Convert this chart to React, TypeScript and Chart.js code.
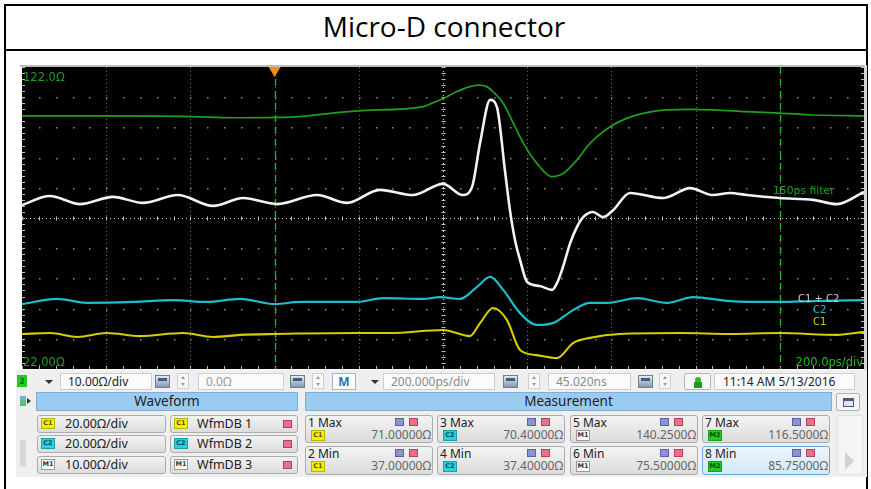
import React, { useEffect, useRef } from "react";
import { Chart, registerables } from "chart.js";

Chart.register(...registerables);

// ---------- data (time in ps, screen value in Ω at 10 Ω/div, 22–122 Ω) ----------
const timeGreen = [0, 183, 399, 501, 601, 660, 796, 953, 977, 1001, 1032, 1064, 1084, 1104, 1119, 1143, 1167, 1191, 1223, 1258, 1286, 1318, 1349, 1397, 1436, 1484, 1531, 1587, 1642, 1721, 1800, 1880, 2000];
const ohmGreen = [105.8, 105.8, 105.6, 105.2, 105.3, 105.6, 107.5, 108.9, 110.2, 111.6, 113.8, 115.5, 116.0, 115.5, 113.8, 110.0, 103.4, 96.7, 90.1, 85.7, 86.8, 91.2, 96.7, 102.2, 105.0, 106.9, 107.8, 108.0, 107.8, 107.2, 106.7, 106.1, 105.8];

const timeWhite = [0, 66, 138, 216, 287, 370, 454, 525, 606, 701, 772, 850, 929, 1000, 1047, 1069, 1088, 1112, 1128, 1147, 1159, 1171, 1183, 1200, 1230, 1259, 1271, 1285, 1302, 1318, 1333, 1356, 1380, 1404, 1444, 1523, 1587, 1641, 1682, 1722, 1800, 1879, 1936, 2000];
const ohmWhite = [76.3, 79.3, 76.6, 79.0, 77.0, 79.6, 76.0, 78.6, 76.6, 79.6, 77.0, 81.3, 79.6, 83.3, 79.6, 82.3, 96.8, 111.1, 108.8, 87.9, 74.6, 64.7, 58.1, 50.8, 49.5, 48.2, 50.5, 55.8, 63.7, 69.0, 72.3, 74.0, 72.3, 74.6, 80.3, 78.6, 81.9, 79.6, 80.3, 79.6, 78.6, 78.0, 76.6, 80.6];

const timeCyan = [0, 83, 154, 264, 359, 439, 518, 601, 660, 796, 858, 953, 993, 1040, 1081, 1112, 1143, 1183, 1223, 1261, 1309, 1349, 1390, 1461, 1532, 1594, 1682, 1800, 1879, 2000];
const ohmCyan = [43.5, 45.2, 43.9, 44.2, 44.8, 44.2, 45.2, 43.5, 44.2, 44.2, 45.5, 45.2, 45.8, 45.2, 49.2, 52.5, 48.2, 40.5, 36.6, 37.2, 41.5, 43.9, 43.9, 45.5, 43.9, 45.8, 44.5, 44.2, 44.5, 44.8];

const timeYellow = [0, 67, 131, 202, 280, 382, 454, 518, 601, 796, 874, 1000, 1064, 1088, 1119, 1152, 1183, 1223, 1271, 1309, 1349, 1420, 1563, 1682, 1800, 1936, 2000];
const ohmYellow = [33.6, 33.9, 32.6, 33.9, 32.9, 33.9, 32.6, 33.3, 33.6, 33.9, 33.9, 34.9, 32.9, 37.2, 42.2, 38.2, 28.3, 26.6, 25.6, 30.6, 32.3, 33.6, 33.9, 33.6, 33.9, 33.3, 34.3];

const xRange = [0, 2000];
const yRange = [22, 122];
const xDivision = 200;
const yDivision = 10;
const cursorTimes = [600, 1800];
const triggerTime = 600;

const waveButtons = [
  { badge: "C1", text: "20.00Ω/div", db: "WfmDB 1" },
  { badge: "C2", text: "20.00Ω/div", db: "WfmDB 2" },
  { badge: "M1", text: "10.00Ω/div", db: "WfmDB 3" },
];
const measButtons = [
  { label: "1 Max", badge: "C1", value: "71.00000Ω" },
  { label: "2 Min", badge: "C1", value: "37.00000Ω" },
  { label: "3 Max", badge: "C2", value: "70.40000Ω" },
  { label: "4 Min", badge: "C2", value: "37.40000Ω" },
  { label: "5 Max", badge: "M1", value: "140.2500Ω" },
  { label: "6 Min", badge: "M1", value: "75.50000Ω" },
  { label: "7 Max", badge: "M2", value: "116.5000Ω" },
  { label: "8 Min", badge: "M2", value: "85.75000Ω" },
];

const badgeColors: Record<string, { bg: string; fg: string; bd: string }> = {
  C1: { bg: "#f4ef00", fg: "#5a5200", bd: "#b9b200" },
  C2: { bg: "#25d2de", fg: "#0b4a55", bd: "#1aa0aa" },
  M1: { bg: "#ffffff", fg: "#333", bd: "#999" },
  M2: { bg: "#1fcc1f", fg: "#064d06", bd: "#14a014" },
};

const pts = (t: number[], v: number[]) => t.map((x, i) => ({ x, y: v[i] }));

const scopeGrid = {
  id: "scopeGrid",
  beforeDatasetsDraw(chart: any) {
    const { ctx, chartArea: a, scales } = chart;
    const x = scales.x;
    const y = scales.y;
    ctx.save();
    const nx = (xRange[1] - xRange[0]) / xDivision;
    const ny = (yRange[1] - yRange[0]) / yDivision;
    for (let i = 1; i < nx; i++) {
      const t = xRange[0] + i * xDivision;
      const px = Math.round(x.getPixelForValue(t)) + 0.5;
      const center = i === nx / 2;
      ctx.strokeStyle = center ? "#cfcfcf" : "#666666";
      ctx.lineWidth = 1;
      ctx.setLineDash([1, 3]);
      ctx.beginPath();
      ctx.moveTo(px, a.top);
      ctx.lineTo(px, a.bottom);
      ctx.stroke();
    }
    for (let j = 1; j < ny; j++) {
      const v = yRange[0] + j * yDivision;
      const py = Math.round(y.getPixelForValue(v)) + 0.5;
      if (j === ny / 2) {
        ctx.strokeStyle = "#cfcfcf";
        ctx.setLineDash([1, 3]);
        ctx.beginPath();
        ctx.moveTo(a.left, py);
        ctx.lineTo(a.right, py);
        ctx.stroke();
      } else {
        ctx.fillStyle = "#8a8a8a";
        for (let k = 0; k <= nx * 5; k++) {
          const px = Math.round(x.getPixelForValue(xRange[0] + (k * xDivision) / 5));
          ctx.fillRect(px, py - 0.5, 1.5, 1.5);
        }
      }
    }
    ctx.setLineDash([]);
    const cx = Math.round(x.getPixelForValue((xRange[0] + xRange[1]) / 2)) + 0.5;
    const cy = Math.round(y.getPixelForValue((yRange[0] + yRange[1]) / 2)) + 0.5;
    ctx.strokeStyle = "#bdbdbd";
    ctx.lineWidth = 1;
    ctx.beginPath();
    for (let k = 0; k <= nx * 5; k++) {
      const px = Math.round(x.getPixelForValue(xRange[0] + (k * xDivision) / 5)) + 0.5;
      ctx.moveTo(px, cy - 2);
      ctx.lineTo(px, cy + 2);
      ctx.moveTo(px, a.bottom);
      ctx.lineTo(px, a.bottom - 3);
    }
    for (let k = 0; k <= ny * 5; k++) {
      const py = Math.round(y.getPixelForValue(yRange[0] + (k * yDivision) / 5)) + 0.5;
      ctx.moveTo(cx - 2, py);
      ctx.lineTo(cx + 2, py);
      ctx.moveTo(a.left, py);
      ctx.lineTo(a.left + 3, py);
      ctx.moveTo(a.right, py);
      ctx.lineTo(a.right - 3, py);
    }
    ctx.stroke();
    ctx.strokeStyle = "#24b024";
    ctx.lineWidth = 1.4;
    ctx.setLineDash([7, 5]);
    cursorTimes.forEach((t) => {
      const px = Math.round(x.getPixelForValue(t)) + 0.5;
      ctx.beginPath();
      ctx.moveTo(px, a.top);
      ctx.lineTo(px, a.bottom);
      ctx.stroke();
    });
    ctx.restore();
  },
  afterDatasetsDraw(chart: any) {
    const { ctx, chartArea: a, scales } = chart;
    const px = scales.x.getPixelForValue(triggerTime);
    ctx.save();
    ctx.fillStyle = "#f28c1e";
    ctx.beginPath();
    ctx.moveTo(px - 6, a.top);
    ctx.lineTo(px + 6, a.top);
    ctx.lineTo(px, a.top + 10);
    ctx.closePath();
    ctx.fill();
    ctx.restore();
  },
};

function ScopeChart() {
  const ref = useRef<HTMLCanvasElement | null>(null);
  useEffect(() => {
    if (!ref.current) return;
    const chart = new Chart(ref.current, {
      type: "line",
      data: {
        datasets: [
          { data: pts(timeGreen, ohmGreen), borderColor: "#1f9f1f", borderWidth: 1.7 },
          { data: pts(timeWhite, ohmWhite), borderColor: "#f2f2f2", borderWidth: 2.6 },
          { data: pts(timeCyan, ohmCyan), borderColor: "#1fbccb", borderWidth: 2.2 },
          { data: pts(timeYellow, ohmYellow), borderColor: "#d6cc00", borderWidth: 2.1 },
        ],
      },
      options: {
        animation: false,
        responsive: false,
        maintainAspectRatio: false,
        events: [],
        layout: { padding: 0 },
        elements: {
          point: { radius: 0 },
          line: { cubicInterpolationMode: "monotone", fill: false },
        },
        plugins: { legend: { display: false }, tooltip: { enabled: false }, title: { display: false } },
        scales: {
          x: { type: "linear", min: xRange[0], max: xRange[1], display: false },
          y: { type: "linear", min: yRange[0], max: yRange[1], display: false },
        },
      },
      plugins: [scopeGrid],
    } as any);
    return () => chart.destroy();
  }, []);
  return (
    <canvas
      ref={ref}
      width={842}
      height={302}
      style={{ position: "absolute", left: 22, top: 67, width: 842, height: 302, background: "#000", display: "block" }}
    />
  );
}

const abs = (l: number, t: number, w: number, h: number, extra: any = {}) => ({
  position: "absolute" as const,
  left: l,
  top: t,
  width: w,
  height: h,
  boxSizing: "border-box" as const,
  ...extra,
});

function Badge({ name, l, t }: { name: string; l: number; t: number }) {
  const c = badgeColors[name];
  return (
    <div
      style={abs(l, t, 14, 11, {
        background: c.bg,
        border: `1px solid ${c.bd}`,
        color: c.fg,
        fontSize: 6.5,
        fontWeight: 700,
        lineHeight: "9px",
        textAlign: "center",
        fontFamily: "'DejaVu Sans', sans-serif",
      })}
    >
      {name}
    </div>
  );
}

function Calc({ l }: { l: number }) {
  return (
    <div style={abs(l, 375, 15, 13, { border: "1px solid #6e7f93", background: "linear-gradient(#e4e9ef,#8898ad)" })}>
      <div style={abs(2, 2, 9, 3, { background: "#3f5e86" })} />
    </div>
  );
}

function Spin({ l }: { l: number }) {
  return (
    <div style={abs(l, 373, 12, 16, { border: "1px solid #cfcfcf", background: "#f7f7f7" })}>
      <div style={abs(3, 2, 0, 0, { borderLeft: "2.5px solid transparent", borderRight: "2.5px solid transparent", borderBottom: "3px solid #9a9a9a" })} />
      <div style={abs(3, 9, 0, 0, { borderLeft: "2.5px solid transparent", borderRight: "2.5px solid transparent", borderTop: "3px solid #9a9a9a" })} />
    </div>
  );
}

function Arrow({ l }: { l: number }) {
  return <div style={abs(l, 380, 0, 0, { borderLeft: "4px solid transparent", borderRight: "4px solid transparent", borderTop: "4px solid #333" })} />;
}

function Field({ l, w, text, color }: { l: number; w: number; text: string; color: string }) {
  return (
    <div style={abs(l, 373, w, 17, { border: "1px solid #cdcdcd", background: "#fbfbfb", color, fontSize: 12, lineHeight: "15px", paddingLeft: 7, whiteSpace: "nowrap" })}>
      {text}
    </div>
  );
}

function XIcons({ l, t }: { l: number; t: number }) {
  return (
    <>
      <div style={abs(l, t, 9, 8, { background: "#8d93cf", border: "1px solid #5a61a8" })} />
      <div style={abs(l + 14, t, 9, 8, { background: "#e4728c", border: "1px solid #b8405a" })} />
    </>
  );
}

const btnStyle = {
  border: "1px solid #acacac",
  borderRadius: 3,
  background: "linear-gradient(#f3f3f3,#dcdcdc)",
};

export default function App() {
  const measCols = [305, 437, 570, 702];
  const measRows = [415, 446];
  const waveRows = [415, 435, 456];
  return (
    <div style={{ position: "absolute", left: 0, top: 0, width: 871, height: 489, background: "#fff", overflow: "hidden", fontFamily: "'Noto Sans', sans-serif", color: "#222" }}>
      <div style={abs(4, 4, 864, 520, { border: "2px solid #000" })} />
      <div style={abs(4, 49, 864, 2, { background: "#000" })} />
      <div style={abs(244, 7, 400, 38, { textAlign: "center", fontFamily: "'Open Sans', sans-serif", fontSize: 28, lineHeight: "38px", color: "#000" })}>
        Micro-D connector
      </div>

      <div style={abs(20, 65, 846, 2, { background: "#bdbdbd" })} />
      <div style={abs(864, 65, 3, 305, { background: "#d6d6d6" })} />
      <ScopeChart />
      <div style={{ position: "absolute", left: 23, top: 71, fontFamily: "'DejaVu Sans', sans-serif", fontSize: 11.5, lineHeight: "12px", color: "#1e9e1e" }}>122.0Ω</div>
      <div style={{ position: "absolute", left: 23, top: 356, fontFamily: "'DejaVu Sans', sans-serif", fontSize: 11.5, lineHeight: "12px", color: "#1e9e1e" }}>22.00Ω</div>
      <div style={{ position: "absolute", right: 871 - 863, top: 356, fontFamily: "'DejaVu Sans', sans-serif", fontSize: 11.5, lineHeight: "12px", color: "#27b527" }}>200.0ps/div</div>
      <div style={{ position: "absolute", left: 773, top: 185, fontFamily: "'DejaVu Sans', sans-serif", fontSize: 10.8, lineHeight: "12px", color: "#1e9e1e" }}>150ps filter</div>
      <div style={{ position: "absolute", left: 798, top: 293, fontFamily: "'DejaVu Sans', sans-serif", fontSize: 10, lineHeight: "12px", color: "#cfcfcf" }}>C1 + C2</div>
      <div style={{ position: "absolute", left: 813, top: 304, fontFamily: "'DejaVu Sans', sans-serif", fontSize: 10, lineHeight: "12px", color: "#1fbccb" }}>C2</div>
      <div style={{ position: "absolute", left: 813, top: 316, fontFamily: "'DejaVu Sans', sans-serif", fontSize: 10, lineHeight: "12px", color: "#d6cc00" }}>C1</div>

      <div style={abs(16, 370, 851, 21, { background: "#efefef" })} />
      <div style={abs(17, 375, 10, 12, { background: "#1fcc1f", fontSize: 8, fontWeight: 700, lineHeight: "12px", textAlign: "center", color: "#063" })}>2</div>
      <Arrow l={45} />
      <Field l={60} w={92} text="10.00Ω/div" color="#222" />
      <Calc l={155} />
      <Spin l={177} />
      <Field l={198} w={86} text="0.0Ω" color="#9a9a9a" />
      <Calc l={290} />
      <Spin l={312} />
      <div style={abs(332, 373, 24, 17, { border: "1px solid #9fb6cf", background: "#fff", color: "#2f6fb5", fontWeight: 700, fontSize: 12, lineHeight: "15px", textAlign: "center" })}>M</div>
      <Arrow l={371} />
      <Field l={383} w={112} text="200.000ps/div" color="#8a8a8a" />
      <Calc l={503} />
      <Spin l={528} />
      <Field l={548} w={83} text="45.020ns" color="#8a8a8a" />
      <Calc l={638} />
      <Spin l={659} />
      <div style={abs(684, 373, 27, 17, { border: "1px solid #b5b5b5", borderRadius: 2, background: "#f7f7f7" })}>
        <div style={abs(10, 3, 6, 6, { background: "#2fb82f", borderRadius: 3 })} />
        <div style={abs(9, 8, 8, 6, { background: "#1f9a1f" })} />
      </div>
      <div style={abs(714, 373, 141, 17, { border: "1px solid #cdcdcd", background: "#fbfbfb", fontSize: 12, lineHeight: "15px", paddingLeft: 8, whiteSpace: "nowrap" })}>
        11:14 AM 5/13/2016
      </div>

      <div style={abs(16, 391, 851, 86, { background: "#efefef" })} />
      <div style={abs(20, 396, 6, 10, { background: "linear-gradient(#7ab0e6,#58c058)" })} />
      <div style={abs(27, 398, 0, 0, { borderTop: "3.5px solid transparent", borderBottom: "3.5px solid transparent", borderLeft: "4px solid #333" })} />
      <div style={abs(36, 392, 262, 19, { background: "#9acbf2", border: "1px solid #7eaed8", fontSize: 13.5, lineHeight: "17px", textAlign: "center" })}>Waveform</div>
      <div style={abs(305, 392, 527, 19, { background: "#9acbf2", border: "1px solid #7eaed8", fontSize: 13.5, lineHeight: "17px", textAlign: "center" })}>Measurement</div>
      <div style={abs(836, 393, 24, 18, { border: "1px solid #b0b0b0", borderRadius: 2, background: "#f6f6f6" })}>
        <div style={abs(6, 4, 11, 9, { border: "1px solid #4a5a70", borderTop: "3px solid #4a5a70", background: "#dde6f0" })} />
      </div>

      <div style={abs(20, 440, 6, 27, { background: "#d9d9d9", borderRadius: 1 })} />
      {waveButtons.map((b, i) => (
        <React.Fragment key={b.db}>
          <div style={abs(37, waveRows[i], 129, 18, btnStyle)} />
          <Badge name={b.badge} l={41} t={waveRows[i] + 3} />
          <div style={{ position: "absolute", left: 65, top: waveRows[i] + 1, fontSize: 12.5, lineHeight: "16px", whiteSpace: "nowrap" }}>{b.text}</div>
          <div style={abs(170, waveRows[i], 128, 18, btnStyle)} />
          <Badge name={b.badge} l={174} t={waveRows[i] + 3} />
          <div style={{ position: "absolute", left: 197, top: waveRows[i] + 1, fontSize: 12.5, lineHeight: "16px", whiteSpace: "nowrap" }}>{b.db}</div>
          <div style={abs(283, waveRows[i] + 5, 9, 8, { background: "#e4728c", border: "1px solid #b8405a" })} />
        </React.Fragment>
      ))}

      {measButtons.map((m, i) => {
        const l = measCols[Math.floor(i / 2)];
        const t = measRows[i % 2];
        const sel = i === 7;
        return (
          <React.Fragment key={m.label}>
            <div
              style={abs(l, t, 128, i % 2 ? 29 : 28, sel
                ? { border: "1px solid #6fa6d6", borderRadius: 3, background: "linear-gradient(#eaf5fd,#d3e9f8)" }
                : btnStyle)}
            />
            <div style={{ position: "absolute", left: l + 3, top: t + 1, fontSize: 12, lineHeight: "14px", whiteSpace: "nowrap" }}>{m.label}</div>
            <XIcons l={l + 90} t={t + 3} />
            <Badge name={m.badge} l={l + 6} t={t + 15} />
            <div style={{ position: "absolute", right: 871 - (l + 126), top: t + 13, fontSize: 12, lineHeight: "14px", color: "#666", whiteSpace: "nowrap" }}>{m.value}</div>
          </React.Fragment>
        );
      })}
      <div style={abs(837, 415, 26, 60, { background: "#f5f5f5", border: "1px solid #e2e2e2" })} />
      <div style={abs(845, 452, 0, 0, { borderTop: "9px solid transparent", borderBottom: "9px solid transparent", borderLeft: "9px solid #d2d2d2" })} />
    </div>
  );
}
